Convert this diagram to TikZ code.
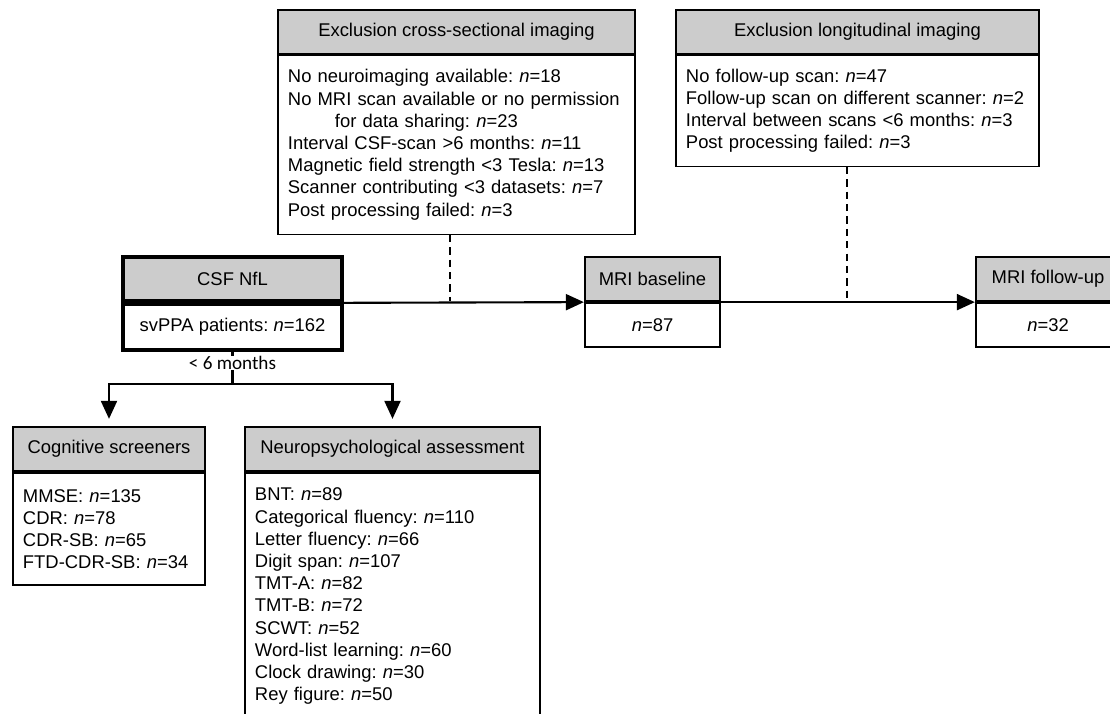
\documentclass[tikz,border=0pt]{standalone}
\usepackage{fontspec}
\setmainfont{Liberation Sans}
\newfontfamily\lblfont{Carlito}
\usetikzlibrary{arrows.meta,positioning}
\usepackage{xcolor}

\definecolor{hdrgray}{RGB}{204,204,204}

\tikzset{
  every node/.style={font=\fontsize{13.1}{15.8}\selectfont\frenchspacing},
  hdr/.style={draw, fill=hdrgray, minimum height=1.1cm, inner sep=0pt},
  body/.style={draw, fill=white, align=left, inner xsep=0.25cm, inner ysep=0pt},
  thinbox/.style={line width=0.9pt},
  midbox/.style={line width=1.6pt},
  thickbox/.style={line width=2.6pt},
  arrow/.style={line width=1.5pt, -{Triangle[length=0.45cm,width=0.4cm]}},
  dashline/.style={line width=0.9pt, dash pattern=on 5.2pt off 3.6pt},
  lbl/.style={fill=white, inner xsep=1pt, inner ysep=0.5pt, font=\lblfont\fontsize{13.6}{15}\selectfont}
}

\begin{document}
\frenchspacing
\begin{tikzpicture}[x=0.025cm,y=-0.025cm]

\clip (0,0) rectangle (1110,714);

% exclusion boxes
\node[hdr,thinbox,minimum width=8.925cm] (crossH) at (456.5,32) {Exclusion cross-sectional imaging};
\node[body,thinbox,text width=8.425cm,minimum height=4.475cm,below=0pt of crossH] (crossB) {No neuroimaging available: \textit{n}=18\\
\mbox{No MRI scan available or no permission}\\
\hspace*{1.175cm}for data sharing: \textit{n}=23\\
Interval CSF-scan >6 months: \textit{n}=11\\
Magnetic field strength <3 Tesla: \textit{n}=13\\
Scanner contributing <3 datasets: \textit{n}=7\\
Post processing failed: \textit{n}=3};

\node[hdr,thinbox,minimum width=9.075cm] (longH) at (857.5,32) {Exclusion longitudinal imaging};
\node[body,thinbox,text width=8.575cm,minimum height=2.775cm,below=0pt of longH] (longB) {No follow-up scan: \textit{n}=47\\
\mbox{Follow-up scan on different scanner: \textit{n}=2}\\
Interval between scans <6 months: \textit{n}=3\\
Post processing failed: \textit{n}=3};

% main line
\node[hdr,thickbox,minimum width=5.475cm] (csfH) at (232.5,279) {CSF NfL};
\node[body,thickbox,minimum width=5.475cm,minimum height=1.125cm,below=0pt of csfH] (csfB) {svPPA patients: \textit{n}=162};

\node[hdr,midbox,minimum width=3.375cm] (mriH) at (652.5,279) {MRI baseline};
\node[body,midbox,minimum width=3.375cm,minimum height=1.1cm,below=0pt of mriH] (mriB) {\textit{n}=87};

\node[hdr,midbox,minimum width=3.6cm] (fuH) at (1048,279) {MRI follow-up};
\node[body,midbox,minimum width=3.6cm,minimum height=1.1cm,below=0pt of fuH] (fuB) {\textit{n}=32};

\draw[arrow] (csfH.south east) -- (mriH.south west);
\draw[arrow] (mriH.south east) -- (fuH.south west);

\coordinate (cut1) at (450,301);
\coordinate (cut2) at (847,301);
\draw[dashline] (crossB.south -| cut1) -- (cut1);
\draw[dashline] (longB.south -| cut2) -- (cut2);

% assessments
\node[hdr,midbox,minimum width=4.8cm] (cogH) at (109,449) {Cognitive screeners};
\node[body,midbox,text width=4.3cm,minimum height=2.8cm,below=0pt of cogH] (cogB) {MMSE: \textit{n}=135\\
CDR: \textit{n}=78\\
CDR-SB: \textit{n}=65\\
FTD-CDR-SB: \textit{n}=34};

\node[hdr,midbox,minimum width=7.375cm] (neuH) at (392.5,449) {Neuropsychological assessment};
\node[body,midbox,text width=6.875cm,minimum height=6.15cm,below=0pt of neuH] (neuB) {BNT: \textit{n}=89\\
Categorical fluency: \textit{n}=110\\
Letter fluency: \textit{n}=66\\
Digit span: \textit{n}=107\\
TMT-A: \textit{n}=82\\
TMT-B: \textit{n}=72\\
SCWT: \textit{n}=52\\
Word-list learning: \textit{n}=60\\
Clock drawing: \textit{n}=30\\
Rey figure: \textit{n}=50};

\coordinate (split) at (232.5,384);
\draw[line width=1.5pt] (csfB.south) -- (split);
\node[lbl] (gap) at (232.5,363) {< 6 months};
\draw[arrow,shorten >=0.175cm] (split) -| (cogH.north);
\draw[arrow,shorten >=0.175cm] (split) -| (neuH.north);

\end{tikzpicture}
\end{document}
